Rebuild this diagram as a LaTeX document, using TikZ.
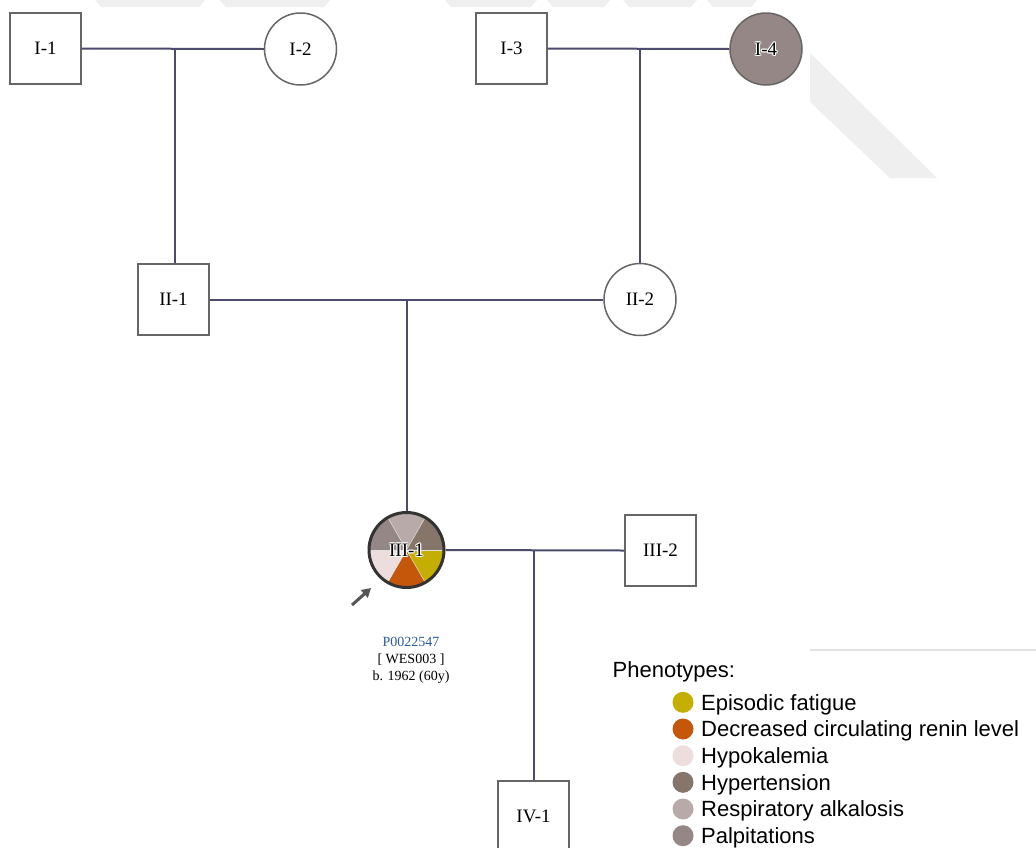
\documentclass[tikz,border=0pt]{standalone}
\usepackage{fontspec}
\setmainfont{Liberation Serif}
\newfontfamily\legendfont{Liberation Sans}
\usetikzlibrary{arrows.meta}

% palette
\definecolor{wm}{HTML}{EFEFEF}
\definecolor{wmline}{HTML}{E2E2E2}
\definecolor{linkc}{HTML}{4C4B6C}
\definecolor{edgec}{HTML}{666666}
\definecolor{probandc}{HTML}{333333}
\definecolor{fatigue}{HTML}{C4AE02}
\definecolor{renin}{HTML}{C5570B}
\definecolor{hypok}{HTML}{EDDDDD}
\definecolor{hypert}{HTML}{86766A}
\definecolor{alkal}{HTML}{B8AAA9}
\definecolor{palp}{HTML}{958785}
\definecolor{pidc}{HTML}{2B5C9A}
\definecolor{arrowc}{HTML}{555555}

\newcommand\idfont{\fontsize{19}{19}\selectfont}
\newcommand\infofont{\fontsize{14}{16}\selectfont}
\newcommand\legfont{\legendfont\fontsize{22}{24}\selectfont}

\tikzset{
  male/.style={draw=edgec, line width=1.5pt, fill=white, minimum size=71pt,
               inner sep=0pt, font=\idfont},
  female/.style={circle, draw=edgec, line width=1.5pt, fill=white,
                 minimum size=72pt, inner sep=0pt, font=\idfont},
  link/.style={draw=linkc, line width=2pt},
  haloed/.style={font=\idfont, inner sep=0pt},
  info/.style={font=\infofont, inner sep=0pt},
  legtext/.style={font=\legfont, anchor=base west, inner sep=0pt},
}

% label with a thin white outline
\newcommand\halolabel[2]{%
  \foreach \hang in {0,45,...,315}
    \node[haloed, text=white, shift={(\hang:1.1)}] at (#1) {#2};
  \node[haloed] at (#1) {#2};}

\begin{document}
\begin{tikzpicture}[x=1pt,y=-1pt]
\useasboundingbox (0,0) rectangle (1036,847);
\fill[white] (0,0) rectangle (1036,847);
\clip (0,0) rectangle (1036,847);

% faint background shapes
\fill[wm] (95,0) -- (205,0) -- (199,7) -- (101,7) -- cycle;
\fill[wm] (220,0) -- (330,0) -- (324,7) -- (226,7) -- cycle;
\fill[wm] (445,0) -- (537,0) -- (531,7) -- (451,7) -- cycle;
\fill[wm] (547,0) -- (610,0) -- (604,7) -- (553,7) -- cycle;
\fill[wm] (623,0) -- (697,0) -- (691,7) -- (629,7) -- cycle;
\fill[wm] (707,0) -- (757,0) -- (751,7) -- (713,7) -- cycle;
\fill[wm] (810,53) -- (810,102) -- (890,178) -- (937,178) -- cycle;

% generation I
\node[male]   (i1) at (45.5,48.5) {I-1};
\node[female] (i2) at (300.5,49) {I-2};
\node[male]   (i3) at (511.5,48.5) {I-3};
\node[female, fill=palp] (i4) at (766,49) {};
\halolabel{i4}{I-4}

% generation II
\node[male]   (ii1) at (173.5,299.5) {II-1};
\node[female] (ii2) at (640,299.5) {II-2};

% generation III: proband with six phenotype sectors
\coordinate (c3) at (406.5,550);
\fill[fatigue] (c3) -- ++(0:37) arc[start angle=0, end angle=60, radius=37] -- cycle;
\fill[renin]   (c3) -- ++(60:37) arc[start angle=60, end angle=120, radius=37] -- cycle;
\fill[hypok]   (c3) -- ++(120:37) arc[start angle=120, end angle=180, radius=37] -- cycle;
\fill[palp]    (c3) -- ++(180:37) arc[start angle=180, end angle=240, radius=37] -- cycle;
\fill[alkal]   (c3) -- ++(240:37) arc[start angle=240, end angle=300, radius=37] -- cycle;
\fill[hypert]  (c3) -- ++(300:37) arc[start angle=300, end angle=360, radius=37] -- cycle;
\foreach \sang in {0,60,...,300}
  \draw[white!75!gray, line width=0.5pt] (c3) -- ++(\sang:37);
\node[circle, draw=probandc, line width=3pt, minimum size=75pt, inner sep=0pt] (iii1) at (c3) {};
\halolabel{iii1}{III-1}
\node[male] (iii2) at (660.5,550.5) {III-2};

% generation IV
\node[male] (iv1) at (533.5,816.5) {IV-1};

% unions and descent lines
\coordinate (m1) at (175,49);
\coordinate (m2) at (640,49);
\coordinate (m3) at (406.5,299.5);
\coordinate (m4) at (534,550);
\draw[link] (i1.east) -- (i2.west);
\draw[link] (m1) -- (m1 |- ii1.north);
\draw[link] (i3.east) -- (i4.west);
\draw[link] (m2) -- (m2 |- ii2.north);
\draw[link] (ii1.east) -- (ii2.west);
\draw[link] (m3) -- (iii1.north);
\draw[link] (iii1.east) -- (iii2.west);
\draw[link] (m4) -- (m4 |- iv1.north);

% proband arrow
\coordinate (pa0) at (352,605);
\coordinate (pa1) at (371,588);
\draw[arrowc, line width=3pt, -{Triangle[length=9pt,width=10pt]}] (pa0) -- (pa1);

% proband details
\node[info, text=pidc] (pid) at (411,642) {P0022547};
\node[info] (wes) at (411,660) {[ WES003 ]};
\node[info] (born) at (411,677) {b. 1962 (60y)};

% legend
\draw[wmline, line width=2pt] (810,650) -- (1036,650);
\node[legtext] (legtitle) at (612.5,677) {Phenotypes:};
\foreach \lc/\ly/\lt [count=\li] in {
    fatigue/702.3/Episodic fatigue,
    renin/729/Decreased circulating renin level,
    hypok/755.7/Hypokalemia,
    hypert/782.3/Hypertension,
    alkal/809/Respiratory alkalosis,
    palp/835.7/Palpitations} {
  \fill[\lc] (683,\ly) circle (10.5);
  \node[legtext] (leg\li) at (701,\ly+7.8) {\lt};
}
\end{tikzpicture}
\end{document}
